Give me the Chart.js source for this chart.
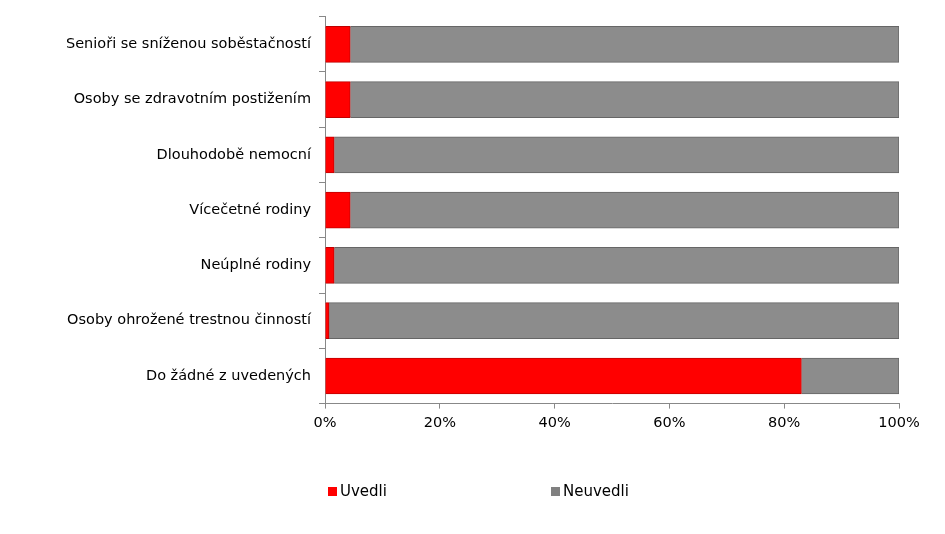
<!DOCTYPE html>
<html><head><meta charset="utf-8">
<script src="https://cdn.jsdelivr.net/npm/chart.js@4"></script>
<style>
body{margin:0;background:#fff;}
#wrap{position:relative;width:945px;height:534px;}
.leg{position:absolute;top:482px;font:15px "DejaVu Sans",sans-serif;color:#000;}
.leg i{display:inline-block;width:9px;height:9px;margin-right:3px;vertical-align:0px;}
</style></head><body>
<div id="wrap"><canvas id="c" width="945" height="534"></canvas>
<div class="leg" style="left:328px"><i style="background:#f00"></i>Uvedli</div>
<div class="leg" style="left:551px"><i style="background:#808080"></i>Neuvedli</div>
</div>
<script>
// Kategorie a hodnoty (%)
const kategorie = ['Senioři se sníženou soběstačností','Osoby se zdravotním postižením','Dlouhodobě nemocní','Vícečetné rodiny','Neúplné rodiny','Osoby ohrožené trestnou činností','Do žádné z uvedených'];
const uvedli = [4.4, 4.4, 1.6, 4.4, 1.6, 0.7, 83];
const neuvedli = uvedli.map(v => 100 - v);
const tickyX = [0, 20, 40, 60, 80, 100];

const font = {family: 'DejaVu Sans', size: 14.5};

new Chart(document.getElementById('c'), {
    type: 'bar',
    data: {
        labels: kategorie,
        datasets: [{
            label: 'Uvedli', data: uvedli,
            backgroundColor: '#ff0000', borderColor: '#c00000', borderWidth: 1,
            barThickness: 36
        }, {
            label: 'Neuvedli', data: neuvedli,
            backgroundColor: '#8c8c8c', borderColor: '#666666', borderWidth: 1,
            barThickness: 36
        }]
    },
    options: {
        indexAxis: 'y',
        responsive: false,
        animation: false,
        layout: {padding: {left: 0, right: 46, top: 16, bottom: 96}},
        plugins: {legend: {display: false}, tooltip: {enabled: false}},
        scales: {
            x: {
                stacked: true, min: 0, max: 100,
                afterBuildTicks: ax => { ax.ticks = tickyX.map(v => ({value: v})); },
                ticks: {callback: v => v + '%', font: font, color: '#000', padding: 6},
                grid: {drawOnChartArea: false, drawTicks: true, tickLength: 5, color: '#888'},
                border: {color: '#888'}
            },
            y: {
                stacked: true,
                afterFit: ax => { ax.width = 325; },
                ticks: {font: font, color: '#000', padding: 8},
                grid: {drawOnChartArea: false, offset: true, tickLength: 6, color: '#888'},
                border: {color: '#888'}
            }
        }
    }
});
</script></body></html>
